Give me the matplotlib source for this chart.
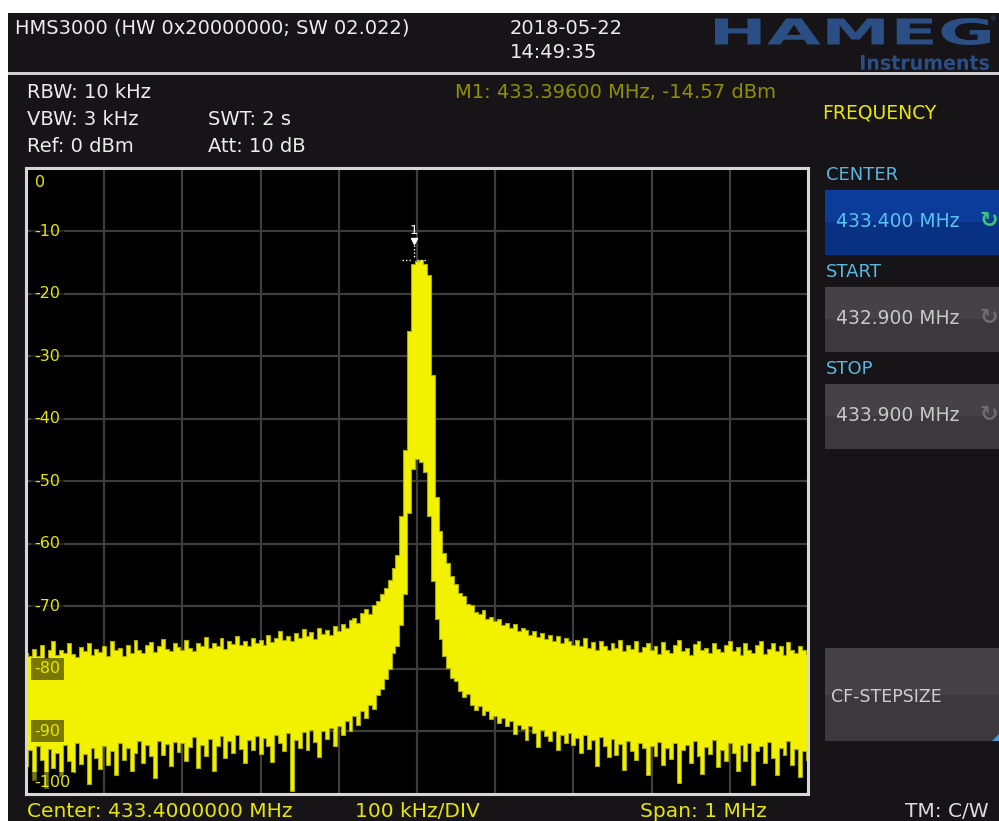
import numpy as np
import matplotlib
matplotlib.use('Agg')
import matplotlib.pyplot as plt
from matplotlib.patches import Rectangle, PathPatch, Polygon
from matplotlib.textpath import TextPath
from matplotlib.font_manager import FontProperties
from matplotlib.transforms import Affine2D

W, H = 999, 821

# ---------------- data ----------------
center_mhz = 433.4
start_mhz = 432.9
stop_mhz = 433.9
freq_offset_khz = np.arange(-500, 501, 5)   # trace bins, 5 kHz apart

upper_dbm = [
    -77.5, -78.0, -76.8, -77.9, -76.2, -78.3, -77.0, -75.6, -77.8, -76.9, -77.4, -75.8, -77.6, -78.1, -76.5, -77.2, -75.9, -77.7, -76.8, -77.3,
    -76.4, -77.9, -75.5, -77.0, -76.6, -78.0, -76.1, -77.4, -75.3, -76.9, -77.5, -76.2, -75.7, -77.3, -76.4, -75.2, -76.8, -77.1, -75.9, -76.5,
    -76.9, -75.4, -76.6, -77.2, -75.8, -76.3, -74.9, -76.7, -75.9, -76.4, -75.1, -76.8, -75.6, -76.0, -74.7, -76.2, -75.5, -76.4, -75.0, -75.8,
    -75.3, -76.2, -74.6, -75.7, -75.0, -73.9, -75.4, -74.8, -75.6, -74.2, -75.0, -73.6, -74.7, -74.1, -75.2, -73.4, -74.5, -73.8, -74.6, -73.1,
    -73.9, -72.8, -73.5, -72.2, -71.9, -72.6, -71.0, -70.4, -71.2, -69.8, -69.2, -68.0, -67.1, -65.8, -63.9, -61.8, -55.6, -45.0, -26.0, -15.2,
    -14.8,
    -14.6, -15.2, -17.0, -33.0, -52.5, -58.0, -61.5, -63.0, -65.2, -66.5, -67.8, -68.4, -69.6, -69.8, -70.9, -71.3, -70.6, -72.0, -71.7, -72.4,
    -72.1, -73.0, -72.6, -73.4, -72.8, -74.0, -73.5, -73.8, -74.6, -73.9, -74.9, -74.3, -75.2, -74.6, -75.5, -74.8, -75.9, -75.1, -75.6, -76.2,
    -75.4, -76.3, -75.0, -76.6, -75.7, -76.9, -75.5, -76.4, -77.0, -75.8, -76.7, -75.3, -77.1, -76.2, -76.8, -75.6, -77.3, -76.5, -75.9, -77.0,
    -76.4, -77.6, -75.7, -76.9, -77.4, -76.1, -75.4, -77.2, -76.6, -77.8, -76.0, -75.5, -77.0, -76.7, -77.5, -75.9, -76.8, -77.3, -76.2, -75.6,
    -77.1, -76.5, -77.8, -75.8, -76.9, -77.4, -76.1, -75.6, -77.6, -76.8, -75.9, -77.2, -76.4, -77.7, -75.7, -76.9, -77.5, -76.3, -77.0, -77.6,
]

lower_dbm = [
    -95.5, -93.0, -97.8, -92.4, -94.6, -99.0, -92.8, -95.9, -93.5, -97.2, -92.1, -94.8, -96.5, -91.8, -95.2, -93.6, -98.4, -92.6, -94.3, -96.0,
    -92.3, -95.4, -93.1, -97.0, -91.9, -94.5, -92.7, -96.3, -93.4, -91.6, -95.1, -92.2, -94.0, -97.5, -91.5, -93.8, -92.0, -95.6, -91.7, -93.3,
    -91.8, -94.7, -92.5, -90.9, -95.8, -92.1, -93.9, -91.2, -96.4, -92.3, -90.8, -94.2, -91.6, -93.5, -90.6, -92.8, -95.0, -91.3, -92.9, -90.7,
    -93.6, -91.1, -92.4, -94.9, -90.5, -91.9, -93.2, -90.3, -99.5, -91.4, -92.6, -90.1, -93.0, -89.8, -91.7, -94.1, -90.0, -91.2, -89.5, -92.3,
    -89.2, -90.6, -88.4, -89.9, -87.6, -88.9, -86.8, -87.9, -85.7, -86.4, -84.1, -83.2, -81.6, -80.0, -77.5, -76.3, -73.0, -68.0, -55.0, -48.0,
    -46.5,
    -47.0, -48.5, -55.5, -66.0, -72.0, -75.2, -78.0, -79.8, -81.5, -82.0, -83.6, -84.5, -84.0, -85.8, -86.5, -85.9, -87.4, -86.8, -88.0, -87.5,
    -88.6, -87.9, -89.2, -88.3, -90.4, -88.9, -89.6, -91.3, -89.1, -90.2, -92.5, -89.8, -90.7, -91.6, -89.9, -93.0, -90.5, -91.8, -90.3, -92.1,
    -91.0, -93.4, -90.6, -92.8, -91.4, -95.5, -90.9, -92.3, -94.1, -91.2, -93.7, -92.0, -96.2, -91.5, -93.1, -94.6, -91.8, -92.7, -97.0, -92.4,
    -93.9, -91.7, -95.3, -92.6, -94.4, -91.9, -98.2, -93.0, -92.2, -95.1, -91.6, -94.0, -96.8, -92.5, -93.6, -91.4, -95.7, -92.9, -94.8, -91.8,
    -93.5, -96.4, -92.1, -94.7, -91.9, -98.6, -93.2, -92.4, -95.0, -91.7, -94.2, -96.9, -92.6, -93.8, -91.5, -95.4, -92.8, -97.3, -93.1, -94.5,
]

marker_mhz = 433.396
marker_dbm = -14.57
y_ticks = [0, -10, -20, -30, -40, -50, -60, -70, -80, -90, -100]

# ---------------- figure ----------------
fig = plt.figure(figsize=(W / 100, H / 100), dpi=100)
fig.patch.set_facecolor('white')
FONT = 'DejaVu Sans'


def fx(x):
    return x / W


def fy(y):
    return 1 - y / H


def rect(x0, y0, x1, y1, color, z=1):
    fig.add_artist(Rectangle((fx(x0), fy(y1)), fx(x1 - x0), (y1 - y0) / H,
                             transform=fig.transFigure, facecolor=color,
                             edgecolor='none', zorder=z))


def txt(x, y, s, color, size, ha='left', weight='normal'):
    fig.text(fx(x), fy(y), s, color=color, fontsize=size, ha=ha, va='center',
             family=FONT, fontweight=weight, zorder=5)


# dark instrument panel
rect(8, 13, W, H, '#171417', z=0)
# header separator
rect(8, 72, W, 75, '#cfcfcf', z=1)

# ---------------- trace axes ----------------
ax = fig.add_axes([fx(26), fy(794), fx(808 - 26), (794 - 168.5) / H])
ax.set_facecolor('black')
freq_mhz = center_mhz + freq_offset_khz / 1000.0
ax.set_xlim(start_mhz, stop_mhz)
ax.set_ylim(-100, 0)
ax.set_xticks(np.linspace(start_mhz, stop_mhz, 11))
ax.set_yticks(y_ticks)
ax.grid(True, color='#3d3d3d', lw=1.6)
ax.set_axisbelow(True)
ax.tick_params(length=0, labelbottom=False, labelleft=False)
for sp in ax.spines.values():
    sp.set_color('#d6d6d6')
    sp.set_linewidth(2.2)
    sp.set_zorder(6)

ax.fill_between(freq_mhz, lower_dbm, upper_dbm, step='mid', color='#f2f200', lw=0, zorder=2)
ax.step(freq_mhz, upper_dbm, where='mid', color='#a8a800', lw=0.8, zorder=3)
ax.step(freq_mhz, lower_dbm, where='mid', color='#a8a800', lw=0.8, zorder=3)

# y labels inside the plot
ytr = ax.get_yaxis_transform()
for v in y_ticks:
    yy = v
    if v == 0:
        yy = -2.3
    elif v == -100:
        yy = -98.2
    ax.text(0.011, yy, str(v), transform=ytr, color='#e6e600', fontsize=11.5,
            ha='left', va='center', family=FONT, zorder=5,
            bbox=dict(boxstyle='square,pad=0.22', facecolor=(0, 0, 0, 0.5), edgecolor='none'))

# marker 1
ax.text(marker_mhz, -9.9, '1', color='white', fontsize=9.5, ha='center', va='center', family=FONT, zorder=6)
ax.plot([marker_mhz], [-11.6], marker='v', ms=4.5, color='white', zorder=6)
ax.plot([marker_mhz, marker_mhz], [-12.3, -14.2], ls=(0, (1, 1.5)), color='white', lw=1, zorder=6)
ax.plot([marker_mhz - 0.015, marker_mhz - 0.0037], [marker_dbm, marker_dbm], ls=(0, (1, 1.5)), color='white', lw=1, zorder=6)
ax.plot([marker_mhz + 0.004, marker_mhz + 0.0155], [marker_dbm, marker_dbm], ls=(0, (1, 1.5)), color='white', lw=1, zorder=6)

# ---------------- header ----------------
WHITE = '#ececec'
txt(15, 28, 'HMS3000 (HW 0x20000000; SW 02.022)', WHITE, 14)
txt(510, 28, '2018-05-22', WHITE, 14)
txt(510, 52, '14:49:35', WHITE, 14)

# HAMEG logo
logo_col = '#2b4e84'
fp_b = FontProperties(family=FONT, weight='bold')
for s, (x0, y0, x1, y1) in [('HAMEG', (715, 18, 990, 45)), ('Instruments', (861, 55, 989, 70))]:
    tp = TextPath((0, 0), s, size=40, prop=fp_b)
    bb = tp.get_extents()
    tr = Affine2D().translate(-bb.x0, -bb.y0).scale((x1 - x0) / bb.width, (y1 - y0) / bb.height).translate(x0, H - y1)
    fig.add_artist(PathPatch(tp, transform=tr, facecolor=logo_col, edgecolor='none', zorder=5))
txt(997, 19, '®', logo_col, 5, ha='right')

# settings
txt(27, 93, 'RBW: 10 kHz', WHITE, 14)
txt(27, 119, 'VBW: 3 kHz', WHITE, 14)
txt(27, 146, 'Ref: 0 dBm', WHITE, 14)
txt(208, 119, 'SWT: 2 s', WHITE, 14)
txt(208, 146, 'Att: 10 dB', WHITE, 14)
txt(455, 92, 'M1: 433.39600 MHz, -14.57 dBm', '#8f8f00', 14)

# ---------------- right menu ----------------
txt(822, 113, 'FREQUENCY', '#e8e800', 13.5)
LBL = '#5ab8e0'
txt(826, 175, 'CENTER', LBL, 13)
rect(825, 190, W, 222, '#0c3c9a', z=2)
rect(825, 222, W, 255, '#083184', z=2)
txt(836, 221, '433.400 MHz', '#5cc0f0', 13.5)
txt(979, 221, '↻', '#3cc87a', 16, weight='bold')

for lab, ly, val in [('START', 272, '432.900 MHz'), ('STOP', 369, '433.900 MHz')]:
    txt(826, ly, lab, LBL, 13)
    rect(825, ly + 15, W, ly + 47, '#444245', z=2)
    rect(825, ly + 47, W, ly + 80, '#3b393c', z=2)
    txt(836, ly + 46, val, '#c8c8c8', 13.5)
    txt(979, ly + 46, '↻', '#6c6c6c', 16, weight='bold')

rect(825, 648, W, 695, '#444245', z=2)
rect(825, 695, W, 741, '#3b393c', z=2)
txt(831, 697, 'CF-STEPSIZE', '#cfcfcf', 12.5)
fig.add_artist(Polygon([[fx(992), fy(741)], [fx(999), fy(741)], [fx(999), fy(734)]],
                       closed=True, transform=fig.transFigure, facecolor='#3aa0e0',
                       edgecolor='none', zorder=3))

# ---------------- footer ----------------
YEL = '#e6e600'
txt(27, 811, 'Center: 433.4000000 MHz', YEL, 14.5)
txt(355, 811, '100 kHz/DIV', YEL, 14.5)
txt(640, 811, 'Span: 1 MHz', YEL, 14.5)
txt(905, 811, 'TM: C/W', '#dcdcdc', 14.5)

fig.savefig('out.png', dpi=100, facecolor=fig.get_facecolor())
